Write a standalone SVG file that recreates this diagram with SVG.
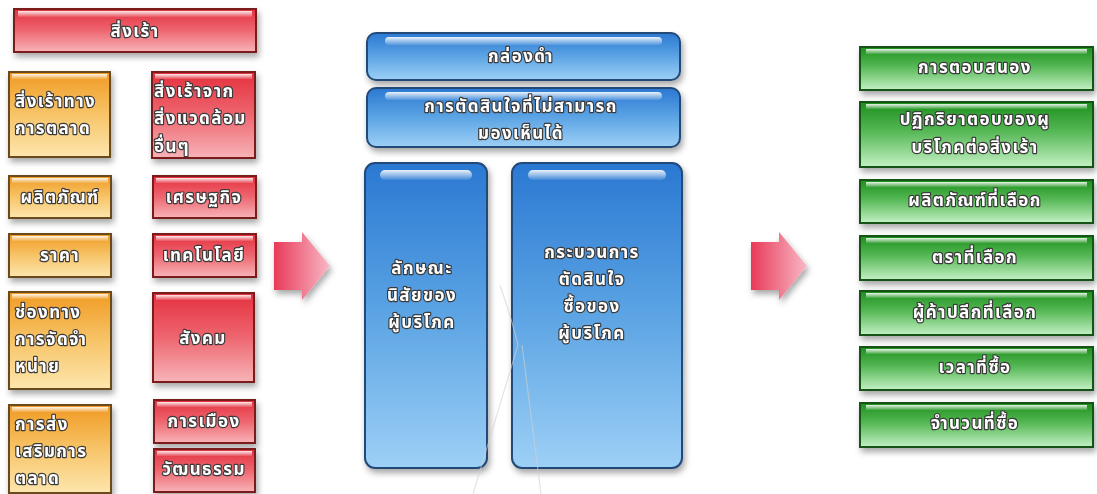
<svg xmlns="http://www.w3.org/2000/svg" width="1097" height="494" viewBox="0 0 1097 494">
<defs>
<linearGradient id="gRed" x1="0" y1="0" x2="0" y2="1"><stop offset="0" stop-color="#e4303e"/><stop offset="0.5" stop-color="#ee6670"/><stop offset="1" stop-color="#f7b4b8"/></linearGradient>
<linearGradient id="gOrange" x1="0" y1="0" x2="0" y2="1"><stop offset="0" stop-color="#f09a22"/><stop offset="0.5" stop-color="#f7c468"/><stop offset="1" stop-color="#fde6ad"/></linearGradient>
<linearGradient id="gBlue" x1="0" y1="0" x2="0" y2="1"><stop offset="0" stop-color="#2a78d2"/><stop offset="0.5" stop-color="#5ca4e4"/><stop offset="1" stop-color="#9dd0f6"/></linearGradient>
<linearGradient id="gGreen" x1="0" y1="0" x2="0" y2="1"><stop offset="0" stop-color="#1c8f1c"/><stop offset="0.45" stop-color="#55b855"/><stop offset="1" stop-color="#c4f0c4"/></linearGradient>
<linearGradient id="gArrow" x1="0" y1="0" x2="1" y2="0"><stop offset="0" stop-color="#e83a58"/><stop offset="1" stop-color="#f8b8c6"/></linearGradient>
<linearGradient id="gHi" x1="0" y1="0" x2="0" y2="1"><stop offset="0" stop-color="#fff" stop-opacity="0.9"/><stop offset="1" stop-color="#fff" stop-opacity="0.1"/></linearGradient>
<filter id="sh" x="-10%" y="-10%" width="130%" height="140%"><feDropShadow dx="2" dy="4" stdDeviation="3" flood-color="#000" flood-opacity="0.35"/></filter>
</defs>
<style>
.red{fill:url(#gRed);stroke:#7a1a1a;stroke-width:2}
.org{fill:url(#gOrange);stroke:#6a4a1a;stroke-width:2}
.blu{fill:url(#gBlue);stroke:#234a78;stroke-width:2}
.grn{fill:url(#gGreen);stroke:#145214;stroke-width:2}
.hi{fill:url(#gHi)}
text{font-family:"Noto Sans Thai","Noto Sans","DejaVu Sans",sans-serif;font-size:17px;font-weight:bold;fill:#fff;stroke:#3a3a3a;stroke-width:2.4px;paint-order:stroke;stroke-linejoin:round;letter-spacing:1.4px}
.c{text-anchor:middle}
.wm{stroke:#d0d0d0;stroke-width:1.2;fill:none;opacity:0.6}
</style>
<rect width="1097" height="494" fill="#fff"/>

<g id="n-stimuli" filter="url(#sh)"><rect class="red" x="14" y="9" width="242" height="43"/><rect class="hi" x="18" y="11" width="234" height="6"/><text class="c" x="135" y="37">สิ่งเร้า</text></g>

<g id="n-mkt" filter="url(#sh)"><rect class="org" x="9" y="72" width="101" height="85"/><rect class="hi" x="12" y="74" width="95" height="5"/><text x="15" y="107">สิ่งเร้าทาง</text><text x="15" y="134">การตลาด</text></g>
<g id="n-product" filter="url(#sh)"><rect class="org" x="9" y="176" width="102" height="42"/><rect class="hi" x="12" y="178" width="96" height="5"/><text class="c" x="60" y="203">ผลิตภัณฑ์</text></g>
<g id="n-price" filter="url(#sh)"><rect class="org" x="9" y="234" width="102" height="43"/><rect class="hi" x="12" y="236" width="96" height="5"/><text class="c" x="60" y="261">ราคา</text></g>
<g id="n-place" filter="url(#sh)"><rect class="org" x="9" y="292" width="102" height="97"/><rect class="hi" x="12" y="294" width="96" height="5"/><text x="15" y="318">ช่องทาง</text><text x="15" y="345">การจัดจำ</text><text x="15" y="372">หน่าย</text></g>
<g id="n-promo" filter="url(#sh)"><rect class="org" x="9" y="405" width="102" height="88"/><rect class="hi" x="12" y="407" width="96" height="5"/><text x="15" y="430">การส่ง</text><text x="15" y="457">เสริมการ</text><text x="15" y="484">ตลาด</text></g>

<g id="n-env" filter="url(#sh)"><rect class="red" x="152" y="72" width="103" height="86"/><rect class="hi" x="155" y="74" width="97" height="5"/><text x="154" y="97">สิ่งเร้าจาก</text><text x="154" y="124">สิ่งแวดล้อม</text><text x="154" y="152">อื่นๆ</text></g>
<g id="n-econ" filter="url(#sh)"><rect class="red" x="153" y="176" width="103" height="42"/><rect class="hi" x="156" y="178" width="97" height="5"/><text class="c" x="204" y="203">เศรษฐกิจ</text></g>
<g id="n-tech" filter="url(#sh)"><rect class="red" x="153" y="234" width="103" height="43"/><rect class="hi" x="156" y="236" width="97" height="5"/><text class="c" x="204" y="261">เทคโนโลยี</text></g>
<g id="n-social" filter="url(#sh)"><rect class="red" x="153" y="293" width="101" height="89"/><rect class="hi" x="156" y="295" width="95" height="5"/><text class="c" x="203" y="344">สังคม</text></g>
<g id="n-politics" filter="url(#sh)"><rect class="red" x="154" y="400" width="101" height="43"/><rect class="hi" x="157" y="402" width="95" height="5"/><text class="c" x="204" y="427">การเมือง</text></g>
<g id="n-culture" filter="url(#sh)"><rect class="red" x="154" y="449" width="101" height="43"/><rect class="hi" x="157" y="451" width="95" height="5"/><text class="c" x="204" y="475">วัฒนธรรม</text></g>

<g id="connectors">
<path d="M274 242 L302 242 L302 232 L330 266 L302 300 L302 290 L274 290 Z" fill="url(#gArrow)" filter="url(#sh)"/>
<path d="M751 242 L779 242 L779 232 L807 266 L779 300 L779 290 L751 290 Z" fill="url(#gArrow)" filter="url(#sh)"/>
</g>

<g id="n-blackbox" filter="url(#sh)"><rect class="blu" x="367" y="33" width="313" height="47" rx="9"/><rect class="hi" x="385" y="37" width="277" height="8" rx="4"/><text class="c" x="521" y="62">กล่องดำ</text></g>
<g id="n-invisible" filter="url(#sh)"><rect class="blu" x="367" y="88" width="313" height="59" rx="9"/><rect class="hi" x="385" y="92" width="277" height="8" rx="4"/><text class="c" x="521" y="112">การตัดสินใจที่ไม่สามารถ</text><text class="c" x="521" y="139">มองเห็นได้</text></g>
<g id="n-character" filter="url(#sh)"><rect class="blu" x="365" y="163" width="122" height="305" rx="10"/><rect class="hi" x="380" y="170" width="92" height="10" rx="5"/><text class="c" x="422" y="274">ลักษณะ</text><text class="c" x="422" y="301">นิสัยของ</text><text class="c" x="422" y="328">ผู้บริโภค</text></g>
<g id="n-process" filter="url(#sh)"><rect class="blu" x="512" y="163" width="170" height="305" rx="10"/><rect class="hi" x="528" y="170" width="138" height="10" rx="5"/><text class="c" x="592" y="258">กระบวนการ</text><text class="c" x="592" y="285">ตัดสินใจ</text><text class="c" x="592" y="312">ซื้อของ</text><text class="c" x="592" y="339">ผู้บริโภค</text></g>

<g id="n-response" filter="url(#sh)"><rect class="grn" x="860" y="47" width="233" height="43"/><rect class="hi" x="866" y="49" width="221" height="5"/><text class="c" x="975" y="73">การตอบสนอง</text></g>
<g id="n-reaction" filter="url(#sh)"><rect class="grn" x="860" y="102" width="233" height="65"/><rect class="hi" x="866" y="104" width="221" height="5"/><text class="c" x="975" y="125">ปฏิกริยาตอบของผู</text><text class="c" x="975" y="153">บริโภคต่อสิ่งเร้า</text></g>
<g id="n-prodchoice" filter="url(#sh)"><rect class="grn" x="860" y="180" width="233" height="43"/><rect class="hi" x="866" y="182" width="221" height="5"/><text class="c" x="975" y="206">ผลิตภัณฑ์ที่เลือก</text></g>
<g id="n-brand" filter="url(#sh)"><rect class="grn" x="860" y="236" width="233" height="44"/><rect class="hi" x="866" y="238" width="221" height="5"/><text class="c" x="975" y="263">ตราที่เลือก</text></g>
<g id="n-dealer" filter="url(#sh)"><rect class="grn" x="860" y="291" width="233" height="44"/><rect class="hi" x="866" y="293" width="221" height="5"/><text class="c" x="975" y="318">ผู้ค้าปลีกที่เลือก</text></g>
<g id="n-timing" filter="url(#sh)"><rect class="grn" x="860" y="347" width="233" height="43"/><rect class="hi" x="866" y="349" width="221" height="5"/><text class="c" x="975" y="373">เวลาที่ซื้อ</text></g>
<g id="n-amount" filter="url(#sh)"><rect class="grn" x="860" y="403" width="233" height="44"/><rect class="hi" x="866" y="405" width="221" height="5"/><text class="c" x="975" y="429">จำนวนที่ซื้อ</text></g>

<g id="watermark"><path class="wm" d="M518 345 L473 494 M522 345 L541 494 M500 285 Q512 320 518 345"/></g>
</svg>
